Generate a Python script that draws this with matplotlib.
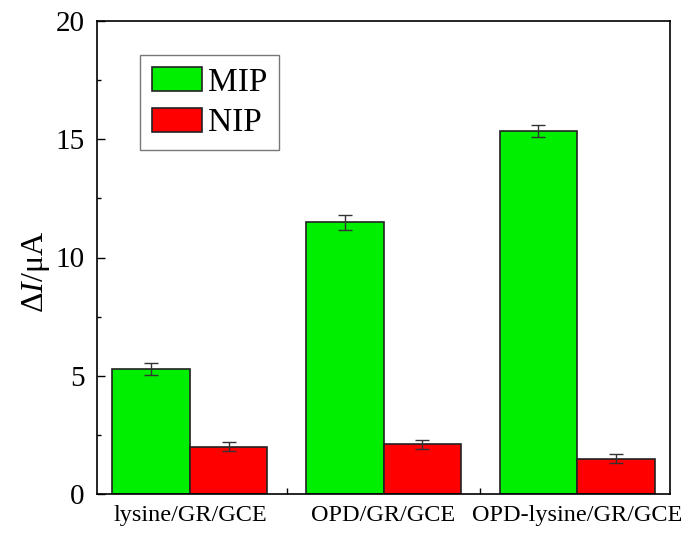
import matplotlib
matplotlib.use("Agg")
import matplotlib.pyplot as plt
import numpy as np
from matplotlib.ticker import MultipleLocator

categories = ["lysine/GR/GCE", "OPD/GR/GCE", "OPD-lysine/GR/GCE"]
mip = [5.27, 11.48, 15.35]
mip_err = [0.25, 0.3, 0.25]
nip = [2.0, 2.1, 1.5]
nip_err = [0.2, 0.2, 0.2]

plt.rcParams['font.family'] = ['Liberation Serif', 'DejaVu Serif']
plt.rcParams['mathtext.fontset'] = 'custom'
plt.rcParams['mathtext.rm'] = 'Liberation Serif'
plt.rcParams['mathtext.it'] = 'Liberation Serif:italic'

fig = plt.figure(figsize=(6.93, 5.35), dpi=100)
ax = fig.add_axes([97/693, 1-494/535, (670-97)/693, (494-21)/535])

x = np.arange(1, len(categories)+1)
w = 0.4
ek = dict(elinewidth=1, capsize=5, capthick=1, ecolor='#333333')
ax.bar(x - w/2, mip, w, yerr=mip_err, color='#00ee00', edgecolor='#222222', linewidth=1.2,
       label='MIP', error_kw=ek)
ax.bar(x + w/2, nip, w, yerr=nip_err, color='#ff0000', edgecolor='#222222', linewidth=1.2,
       label='NIP', error_kw=ek)

ax.set_xlim(0.52, 3.48)
ax.set_ylim(0, 20)
ax.yaxis.set_major_locator(MultipleLocator(5))
ax.yaxis.set_minor_locator(MultipleLocator(2.5))
ax.set_xticks([1.5, 2.5])
ax.set_xticklabels([])
ax.tick_params(axis='y', which='major', direction='in', length=6, width=1, labelsize=21, pad=9)
ax.tick_params(axis='y', which='minor', direction='in', length=3, width=1)
ax.tick_params(axis='x', which='major', direction='in', length=4, width=1)
for sp in ax.spines.values():
    sp.set_linewidth(1.2)
for xi, c in zip(x, categories):
    ax.text(xi, -0.45, c, ha='center', va='top', fontsize=17.5, transform=ax.transData)

ax.set_ylabel(r'$\Delta\mathit{I}/\mathrm{\mu A}$', fontsize=23)
ax.yaxis.set_label_coords(-0.078, 0.47)

leg = ax.legend(loc='upper left', bbox_to_anchor=(0.075, 0.928), borderaxespad=0, fontsize=24,
                frameon=True, fancybox=False, edgecolor='#555555', handlelength=1.5,
                handleheight=0.75, handletextpad=0.2, borderpad=0.35, labelspacing=0.3)
leg.get_frame().set_linewidth(1)

fig.savefig("out.png", dpi=100)
